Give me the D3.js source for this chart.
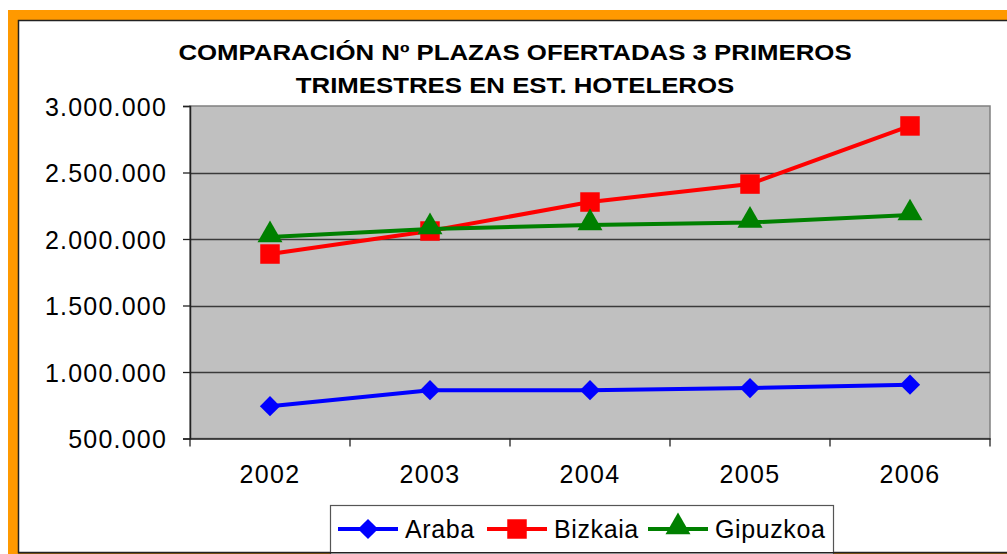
<!DOCTYPE html>
<html>
<head>
<meta charset="utf-8">
<script src="https://cdn.jsdelivr.net/npm/d3@7"></script>
<style>
  body { margin: 0; background: #fff; }
  svg { display: block; font-family: "Liberation Sans", Arial, sans-serif; }
</style>
</head>
<body>
<div id="viz"></div>
<script>
const years = ["2002", "2003", "2004", "2005", "2006"];
const araba = [743000, 863000, 863000, 879000, 905000];
const bizkaia = [1887000, 2060000, 2278000, 2413000, 2850000];
const gipuzkoa = [2015000, 2075000, 2105000, 2124000, 2180000];
const yTicks = [500000, 1000000, 1500000, 2000000, 2500000, 3000000];
const titleLines = ["COMPARACIÓN Nº PLAZAS OFERTADAS 3 PRIMEROS", "TRIMESTRES EN EST. HOTELEROS"];

const series = [
  { name: "Araba", values: araba, color: "#0000ff", symbol: "diamond" },
  { name: "Bizkaia", values: bizkaia, color: "#ff0000", symbol: "square" },
  { name: "Gipuzkoa", values: gipuzkoa, color: "#008000", symbol: "triangle" }
];

const W = 1007, H = 554;
const plot = { left: 190, right: 990, top: 106, bottom: 438.5 };

const svg = d3.select("#viz").append("svg")
  .attr("width", W)
  .attr("height", H);

// orange frame + inner border
svg.append("rect").attr("x", 8).attr("y", 10).attr("width", W).attr("height", H)
  .attr("fill", "#ff9900");
svg.append("rect").attr("x", 18.5).attr("y", 20.5).attr("width", W).attr("height", 532)
  .attr("fill", "#fff").attr("stroke", "#222").attr("stroke-width", 1.5);

const x = d3.scaleBand().domain(years).range([plot.left, plot.right]);
const y = d3.scaleLinear().domain([500000, 3000000]).range([plot.bottom, plot.top]);

// title (the original is stretched sideways)
svg.append("text")
  .attr("text-anchor", "middle")
  .attr("font-weight", "bold")
  .attr("font-size", 21.5)
  .attr("transform", "translate(515,0) scale(1.2,1)")
  .selectAll("tspan").data(titleLines).join("tspan")
  .attr("x", 0)
  .attr("y", (d, i) => 60 + i * 33)
  .text(d => d);

// plot background
svg.append("rect")
  .attr("x", plot.left).attr("y", plot.top)
  .attr("width", plot.right - plot.left).attr("height", plot.bottom - plot.top)
  .attr("fill", "#c0c0c0").attr("stroke", "#808080").attr("stroke-width", 1.5);

// gridlines
svg.append("g").selectAll("line").data(yTicks.slice(1, -1)).join("line")
  .attr("x1", plot.left).attr("x2", plot.right)
  .attr("y1", d => Math.round(y(d)) + 0.5).attr("y2", d => Math.round(y(d)) + 0.5)
  .attr("stroke", "#3a3a3a").attr("stroke-width", 1.3);

const fmt = d3.formatLocale({ decimal: ",", thousands: ".", grouping: [3], currency: ["", "€"] }).format(",d");

// y axis
const yAxis = svg.append("g")
  .attr("transform", `translate(${plot.left},0)`)
  .call(d3.axisLeft(y).tickValues(yTicks).tickSize(7).tickPadding(16).tickFormat(fmt));
yAxis.select(".domain").attr("stroke", "#222").attr("stroke-width", 1.5);
yAxis.selectAll(".tick line").attr("stroke", "#222").attr("stroke-width", 1.3);
yAxis.selectAll("text").attr("font-size", 25).attr("letter-spacing", 1.2)
  .attr("fill", "#000").attr("font-family", "Liberation Sans, Arial, sans-serif")
  .attr("dy", "0.36em");

// x axis
const xAxis = svg.append("g")
  .attr("transform", `translate(0,${plot.bottom})`)
  .call(d3.axisBottom(x).tickSize(0).tickPadding(27));
xAxis.select(".domain").attr("stroke", "#222").attr("stroke-width", 1.5);
xAxis.selectAll("text").attr("font-size", 25).attr("letter-spacing", 1.3)
  .attr("fill", "#000").attr("font-family", "Liberation Sans, Arial, sans-serif");
const bounds = years.map(d => x(d)).concat([plot.right]);
xAxis.selectAll("line.sep").data(bounds).join("line")
  .attr("class", "sep")
  .attr("x1", d => d).attr("x2", d => d)
  .attr("y1", 0).attr("y2", 8)
  .attr("stroke", "#222").attr("stroke-width", 1.3);

const symbols = {
  diamond: d3.symbol().type(d3.symbolDiamond2).size(260),
  square: d3.symbol().type(d3.symbolSquare).size(380),
  triangle: d3.symbol().type(d3.symbolTriangle).size(270)
};

const line = d3.line()
  .x((d, i) => x(years[i]) + x.bandwidth() / 2)
  .y(d => y(d));

const gSeries = svg.append("g").selectAll("g").data(series).join("g");
gSeries.append("path")
  .attr("d", d => line(d.values))
  .attr("fill", "none")
  .attr("stroke", d => d.color)
  .attr("stroke-width", 4);
gSeries.each(function(s) {
  d3.select(this).selectAll("path.mk").data(s.values).join("path")
    .attr("class", "mk")
    .attr("d", symbols[s.symbol])
    .attr("transform", (d, i) => `translate(${x(years[i]) + x.bandwidth() / 2},${y(d) + (s.symbol === "triangle" ? -2 : 0)})`)
    .attr("fill", s.color);
});

// legend
const legend = svg.append("g");
legend.append("rect")
  .attr("x", 330.5).attr("y", 505.5).attr("width", 503).attr("height", 60)
  .attr("fill", "#fff").attr("stroke", "#555").attr("stroke-width", 1.2);
const legendX = [338, 487, 648];
const li = legend.selectAll("g").data(series).join("g")
  .attr("transform", (d, i) => `translate(${legendX[i]},529)`);
li.append("line")
  .attr("x1", 0).attr("x2", 60)
  .attr("stroke", d => d.color).attr("stroke-width", 4);
li.append("path")
  .attr("d", d => symbols[d.symbol]())
  .attr("transform", d => `translate(30,${d.symbol === "triangle" ? -2 : 0})`)
  .attr("fill", d => d.color);
li.append("text")
  .attr("x", 67).attr("y", 9)
  .attr("font-size", 25).attr("letter-spacing", 0.6)
  .text(d => d.name);

// redraw the bottom frame edge over the legend box
svg.append("line").attr("x1", 18).attr("x2", W).attr("y1", 552.75).attr("y2", 552.75)
  .attr("stroke", "#222").attr("stroke-width", 1.5);
</script>
</body>
</html>
